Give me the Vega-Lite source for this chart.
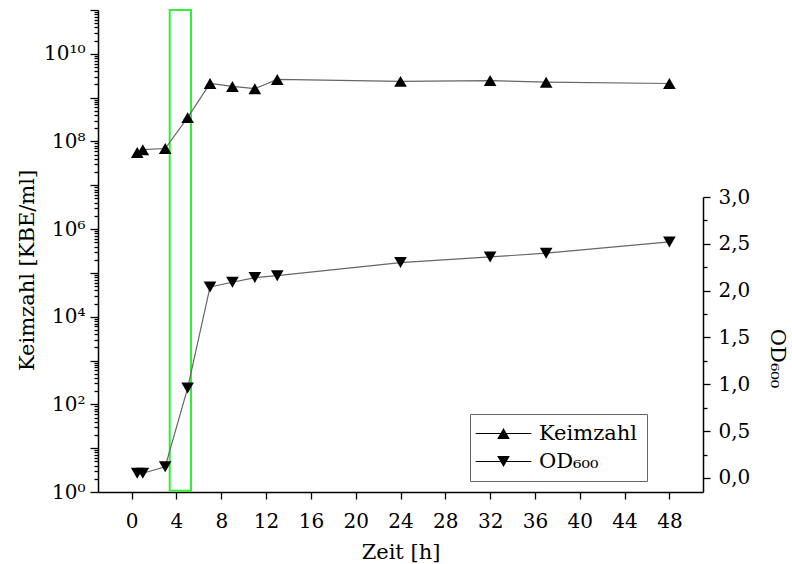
{
  "$schema": "https://vega.github.io/schema/vega-lite/v6.json",
  "autosize": {"type": "none"},
  "padding": {"left": 98, "top": 10, "right": 89, "bottom": 72},
  "width": 605,
  "height": 482,
  "background": "white",
  "config": {
    "font": "DejaVu Serif",
    "view": {"stroke": null},
    "axis": {
      "grid": false,
      "domainColor": "black",
      "domainWidth": 1.5,
      "tickColor": "black",
      "tickWidth": 1.3,
      "labelFont": "DejaVu Serif",
      "labelFontSize": 20,
      "labelColor": "black",
      "titleFont": "DejaVu Serif",
      "titleFontSize": 21,
      "titleFontWeight": "normal",
      "titleColor": "black"
    },
    "legend": {
      "labelFont": "DejaVu Serif"
    }
  },
  "datasets": {
    "messung": [
      {"zeit": 0.5, "wert": 56000000, "serie": "Keimzahl"},
      {"zeit": 1, "wert": 65000000, "serie": "Keimzahl"},
      {"zeit": 3, "wert": 69000000, "serie": "Keimzahl"},
      {"zeit": 5, "wert": 350000000, "serie": "Keimzahl"},
      {"zeit": 7, "wert": 2100000000, "serie": "Keimzahl"},
      {"zeit": 9, "wert": 1800000000, "serie": "Keimzahl"},
      {"zeit": 11, "wert": 1600000000, "serie": "Keimzahl"},
      {"zeit": 13, "wert": 2600000000, "serie": "Keimzahl"},
      {"zeit": 24, "wert": 2350000000, "serie": "Keimzahl"},
      {"zeit": 32, "wert": 2450000000, "serie": "Keimzahl"},
      {"zeit": 37, "wert": 2250000000, "serie": "Keimzahl"},
      {"zeit": 48, "wert": 2100000000, "serie": "Keimzahl"},
      {"zeit": 0.5, "wert": 0.05, "serie": "OD600"},
      {"zeit": 1, "wert": 0.05, "serie": "OD600"},
      {"zeit": 3, "wert": 0.12, "serie": "OD600"},
      {"zeit": 5, "wert": 0.96, "serie": "OD600"},
      {"zeit": 7, "wert": 2.04, "serie": "OD600"},
      {"zeit": 9, "wert": 2.09, "serie": "OD600"},
      {"zeit": 11, "wert": 2.14, "serie": "OD600"},
      {"zeit": 13, "wert": 2.16, "serie": "OD600"},
      {"zeit": 24, "wert": 2.3, "serie": "OD600"},
      {"zeit": 32, "wert": 2.36, "serie": "OD600"},
      {"zeit": 37, "wert": 2.4, "serie": "OD600"},
      {"zeit": 48, "wert": 2.52, "serie": "OD600"}
    ],
    "fenster": [{"start": 3.4, "ende": 5.3, "unten": 1.07, "oben": 100000000000}]
  },
  "layer": [
    {
      "layer": [
        {
          "data": {"name": "fenster"},
          "mark": {"type": "rect", "fill": "transparent", "stroke": "#33ee33", "strokeWidth": 2},
          "encoding": {
            "x": {
              "field": "start", "type": "quantitative", "title": "Zeit [h]",
              "scale": {"domain": [-3, 51], "nice": false, "zero": false},
              "axis": {
                "values": [0, 4, 8, 12, 16, 20, 24, 28, 32, 36, 40, 44, 48],
                "tickSize": 7,
                "labelPadding": 28,
                "labelBaseline": "alphabetic",
                "labelFlush": false,
                "labelOverlap": false,
                "titleY": 66,
                "titleBaseline": "alphabetic"
              }
            },
            "x2": {"field": "ende"},
            "y": {
              "field": "oben", "type": "quantitative", "title": "Keimzahl [KBE/ml]",
              "scale": {"type": "log", "domain": [1, 100000000000], "nice": false},
              "axis": {
                "values": [1,2,3,4,5,6,7,8,9,10,20,30,40,50,60,70,80,90,100,200,300,400,500,600,700,800,900,1000,2000,3000,4000,5000,6000,7000,8000,9000,1e4,2e4,3e4,4e4,5e4,6e4,7e4,8e4,9e4,1e5,2e5,3e5,4e5,5e5,6e5,7e5,8e5,9e5,1e6,2e6,3e6,4e6,5e6,6e6,7e6,8e6,9e6,1e7,2e7,3e7,4e7,5e7,6e7,7e7,8e7,9e7,1e8,2e8,3e8,4e8,5e8,6e8,7e8,8e8,9e8,1e9,2e9,3e9,4e9,5e9,6e9,7e9,8e9,9e9,1e10,2e10,3e10,4e10,5e10,6e10,7e10,8e10,9e10,1e11],
                "tickSize": {"condition": {"test": "indexof([1,10,100,1000,10000,100000,1000000,10000000,100000000,1000000000,10000000000,100000000000], datum.value) < 0", "value": 4}, "value": 8},
                "labelPadding": 5,
                "labelOverlap": false,
                "labelFlush": false,
                "labelExpr": "datum.value == 1 ? '10⁰' : datum.value == 100 ? '10²' : datum.value == 10000 ? '10⁴' : datum.value == 1000000 ? '10⁶' : datum.value == 100000000 ? '10⁸' : datum.value == 10000000000 ? '10¹⁰' : ''",
                "titleX": -65,
                "titleY": 260,
                "titleAngle": -90,
                "titleAlign": "center",
                "titleBaseline": "alphabetic"
              }
            },
            "y2": {"field": "unten"}
          }
        },
        {
          "data": {"name": "messung"},
          "transform": [{"filter": "datum.serie == 'Keimzahl'"}],
          "mark": {"type": "line", "color": "#666666", "strokeWidth": 1.2},
          "encoding": {
            "x": {"field": "zeit", "type": "quantitative", "title": "Zeit [h]"},
            "y": {"field": "wert", "type": "quantitative", "title": "Keimzahl [KBE/ml]"}
          }
        },
        {
          "data": {"name": "messung"},
          "transform": [{"filter": "datum.serie == 'Keimzahl'"}],
          "mark": {"type": "point", "filled": true, "color": "black", "opacity": 1, "size": 160, "shape": "triangle-up"},
          "encoding": {
            "x": {"field": "zeit", "type": "quantitative", "title": "Zeit [h]"},
            "y": {"field": "wert", "type": "quantitative", "title": "Keimzahl [KBE/ml]"}
          }
        },
        {
          "data": {"name": "messung"},
          "mark": {"type": "point", "filled": true, "fill": "black", "opacity": 0, "size": 160},
          "encoding": {
            "x": {"field": "zeit", "type": "quantitative", "title": "Zeit [h]"},
            "y": {"datum": 1, "type": "quantitative"},
            "shape": {
              "field": "serie", "type": "nominal",
              "scale": {
                "domain": ["Keimzahl", "OD600"],
                "range": [
                  "M-4.4,-0.08V0.08H-0.4V-0.08ZM0.4,-0.08V0.08H4.4V-0.08ZM0,-0.866L-1,0.866L1,0.866Z",
                  "M-4.4,-0.08H-0.4V0.08H-4.4ZM0.4,-0.08H4.4V0.08H0.4ZM0,0.866L-1,-0.866L1,-0.866Z"
                ]
              },
              "legend": {
                "orient": "none",
                "legendX": 372,
                "legendY": 404,
                "title": null,
                "strokeColor": "#666666",
                "fillColor": "white",
                "padding": 9,
                "cornerRadius": 0,
                "labelFontSize": 21,
                "labelColor": "black",
                "labelLimit": 300,
                "symbolSize": 160,
                "symbolOpacity": 1,
                "symbolFillColor": "black",
                "symbolStrokeWidth": 0,
                "symbolOffset": 14,
                "labelOffset": 25,
                "rowPadding": 6,
                "labelExpr": "datum.label == 'OD600' ? 'OD₆₀₀' : datum.label"
              }
            }
          }
        }
      ]
    },
    {
      "data": {"name": "messung"},
      "transform": [{"filter": "datum.serie == 'OD600'"}],
      "layer": [
        {
          "mark": {"type": "line", "color": "#666666", "strokeWidth": 1.2},
          "encoding": {
            "x": {"field": "zeit", "type": "quantitative", "title": "Zeit [h]"},
            "y": {
              "field": "wert", "type": "quantitative", "title": "OD₆₀₀",
              "scale": {"domain": [-0.15, 3.0], "range": [482, 187], "nice": false, "zero": false},
              "axis": {
                "orient": "right",
                "values": [0, 0.25, 0.5, 0.75, 1, 1.25, 1.5, 1.75, 2, 2.25, 2.5, 2.75, 3],
                "tickSize": {"condition": {"test": "datum.value % 0.5 != 0", "value": 4}, "value": 7},
                "labelPadding": 8,
                "labelOverlap": false,
                "labelFlush": false,
                "labelExpr": "datum.value % 0.5 == 0 ? replace(format(datum.value, '.1f'), '.', ',') : ''",
                "titleX": 67,
                "titleY": 348,
                "titleAngle": 90,
                "titleAlign": "center",
                "titleBaseline": "alphabetic"
              }
            }
          }
        },
        {
          "mark": {"type": "point", "filled": true, "color": "black", "opacity": 1, "size": 160, "shape": "triangle-down"},
          "encoding": {
            "x": {"field": "zeit", "type": "quantitative", "title": "Zeit [h]"},
            "y": {"field": "wert", "type": "quantitative", "title": "OD₆₀₀"}
          }
        }
      ]
    }
  ],
  "resolve": {"scale": {"y": "independent"}}
}
